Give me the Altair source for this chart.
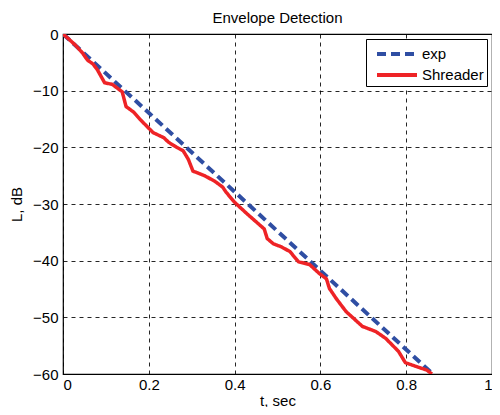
import altair as alt
import pandas as pd

exp_t = [0.0, 0.862]
exp_L = [0.0, -60.0]

shr_t = [0, 0.012, 0.028, 0.045, 0.057, 0.07, 0.08, 0.097, 0.115, 0.138, 0.147, 0.165, 0.18,
         0.21, 0.235, 0.246, 0.265, 0.28, 0.292, 0.303, 0.33, 0.354, 0.372, 0.38, 0.4, 0.43,
         0.469, 0.476, 0.49, 0.51, 0.529, 0.549, 0.575, 0.598, 0.614, 0.621, 0.637, 0.66,
         0.698, 0.729, 0.752, 0.782, 0.798, 0.828, 0.848, 0.86]
shr_L = [0, -0.8, -1.9, -3.3, -4.6, -5.3, -6.3, -8.6, -8.9, -10.2, -12.8, -13.8, -15.1,
         -17.4, -18.3, -19.1, -20.0, -20.6, -22.1, -24.2, -25.0, -26.0, -27.0, -27.9, -29.7, -31.8,
         -34.4, -36.1, -37.0, -37.6, -38.4, -40.2, -40.7, -42.3, -43.2, -44.9, -46.7, -49.0,
         -51.6, -52.5, -53.7, -56.0, -58.0, -58.8, -59.3, -60.0]

series = ["exp", "Shreader"]
colors = ["#2F4EA3", "#EE2326"]

df_exp = pd.DataFrame({"t": exp_t, "L": exp_L, "s": "exp"})
df_shr = pd.DataFrame({"t": shr_t, "L": shr_L, "s": "Shreader"})

font = "Liberation Sans"

x = alt.X("t:Q", title="t, sec",
          scale=alt.Scale(domain=[0, 1], nice=False),
          axis=alt.Axis(values=[0, 0.2, 0.4, 0.6, 0.8, 1], format="~g"))
y = alt.Y("L:Q", title="L, dB",
          scale=alt.Scale(domain=[-60, 0], nice=False),
          axis=alt.Axis(values=[-60, -50, -40, -30, -20, -10, 0]))
color = alt.Color("s:N", scale=alt.Scale(domain=series, range=colors),
                  legend=alt.Legend(title=None))
dash = alt.StrokeDash("s:N", scale=alt.Scale(domain=series, range=[[9, 5], [1, 0]]),
                      legend=alt.Legend(title=None))

base_exp = alt.Chart(df_exp).mark_line(strokeWidth=4, clip=True).encode(
    x=x, y=y, color=color, strokeDash=dash)
base_shr = alt.Chart(df_shr).mark_line(strokeWidth=3.5, clip=True).encode(
    x=x, y=y, color=color, strokeDash=dash)

chart = alt.layer(base_exp, base_shr).properties(
    width=429, height=340,
    title=alt.Title("Envelope Detection", font=font, fontSize=15, fontWeight="normal",
                    color="black", offset=1),
    autosize=alt.AutoSizeParams(type="none"),
    padding={"left": 55, "top": 26, "right": 0, "bottom": 33},
).configure_view(
    stroke="black", strokeWidth=1.2
).configure_axis(
    labelFont=font, labelFontSize=15, labelColor="black",
    titleFont=font, titleFontSize=15, titleFontWeight="normal", titleColor="black",
    grid=True, gridColor="black", gridDash=[4, 4], gridWidth=1, gridOpacity=0.85,
    domain=False, ticks=False, labelPadding=5,
).configure_axisX(
    labelPadding=3, titlePadding=1
).configure_axisY(
    titlePadding=8
).configure_legend(
    orient="top-right", offset=5, fillColor="white", strokeColor="black",
    padding=3, labelFont=font, labelFontSize=15, labelColor="black",
    symbolType="M-2,0L2,0", symbolSize=400, symbolStrokeWidth=4, rowPadding=1,
    symbolOffset=16, labelOffset=13
)

chart.save("out.html", embed_options={"renderer": "svg", "actions": False})
